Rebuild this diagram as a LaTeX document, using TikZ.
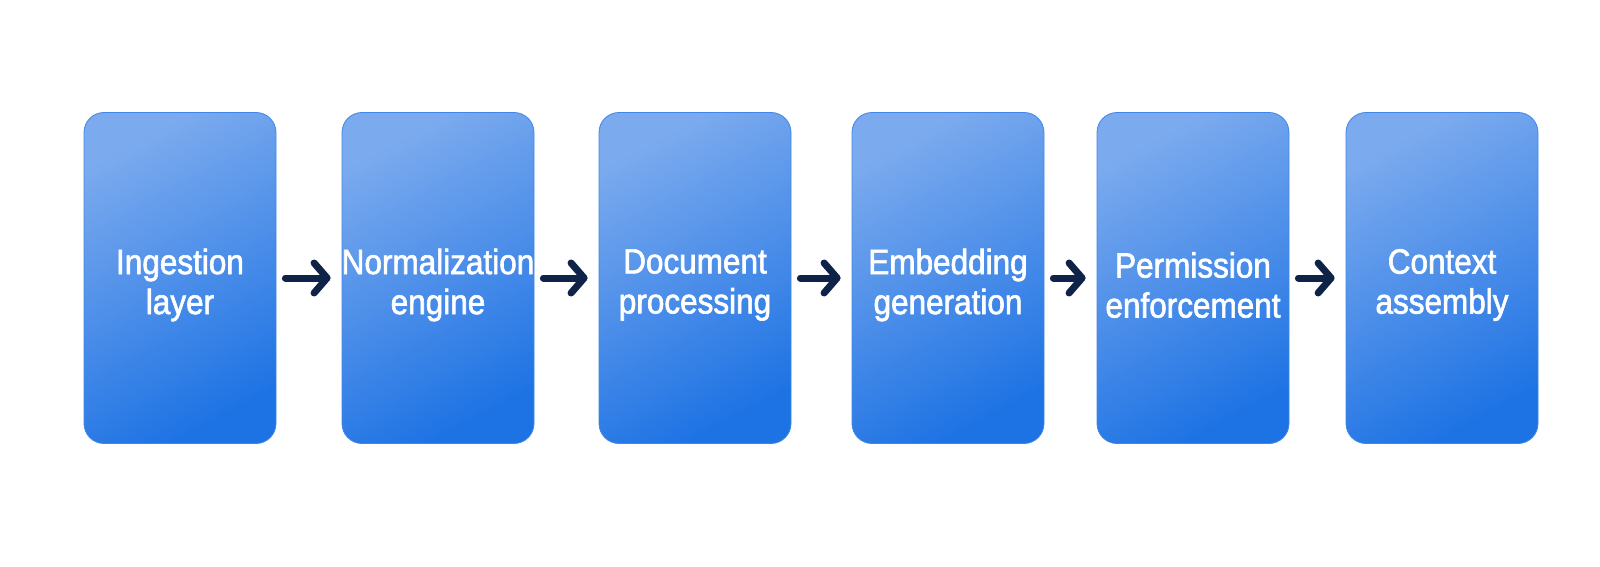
\documentclass[tikz,border=0pt]{standalone}
\usepackage{fontspec}
\setmainfont[FakeStretch=0.9, FakeBold=1.8]{Liberation Sans}
\usetikzlibrary{arrows.meta}

\definecolor{boxtop}{HTML}{7BAAEE}
\definecolor{boxbot}{HTML}{1E73E4}
\definecolor{boxedge}{HTML}{3F86E8}
\definecolor{flechecol}{HTML}{0F2247}

\tikzset{
  etape/.style={draw=boxedge, line width=0.8pt, rounded corners=20pt,
    top color=boxtop, bottom color=boxbot, shading angle=28,
    minimum width=192pt, minimum height=331pt, inner sep=0pt},
  texte/.style={text=white, align=center, inner sep=0pt,
    font=\fontsize{35}{40}\selectfont},
  fleche/.style={draw=flechecol, line width=7pt, line cap=round,
    shorten <=9pt, shorten >=11pt,
    -{Straight Barb[length=13pt, width=30pt, line cap=round, line join=round]}}
}

\begin{document}
\begin{tikzpicture}[x=1pt, y=-1pt]
    % Cadre
    \useasboundingbox (0,0) rectangle (1600,567);

    % Etapes du pipeline
    \node[etape] (ingest) at (180,278)  {};
    \node[etape] (normal) at (438,278)  {};
    \node[etape] (docs)   at (695,278)  {};
    \node[etape] (embed)  at (948,278)  {};
    \node[etape] (perm)   at (1193,278) {};
    \node[etape] (ctx)    at (1442,278) {};

    % Textes
    \node[texte] (t-ingest) at ([yshift=-7pt]ingest.center) {Ingestion\\layer};
    \node[texte] (t-normal) at ([yshift=-7pt]normal.center) {Normalization\\engine};
    \node[texte] (t-docs)   at ([yshift=-7pt]docs.center)   {Document\\processing};
    \node[texte] (t-embed)  at ([yshift=-7pt]embed.center)  {Embedding\\generation};
    \node[texte] (t-perm)   at ([yshift=-7pt]perm.center)   {Permission\\enforcement};
    \node[texte] (t-ctx)    at ([yshift=-7pt]ctx.center)    {Context\\assembly};

    % Fleches
    \draw[fleche] (ingest) -- (normal);
    \draw[fleche] (normal) -- (docs);
    \draw[fleche] (docs) -- (embed);
    \draw[fleche] (embed) -- (perm);
    \draw[fleche] (perm) -- (ctx);
\end{tikzpicture}
\end{document}
